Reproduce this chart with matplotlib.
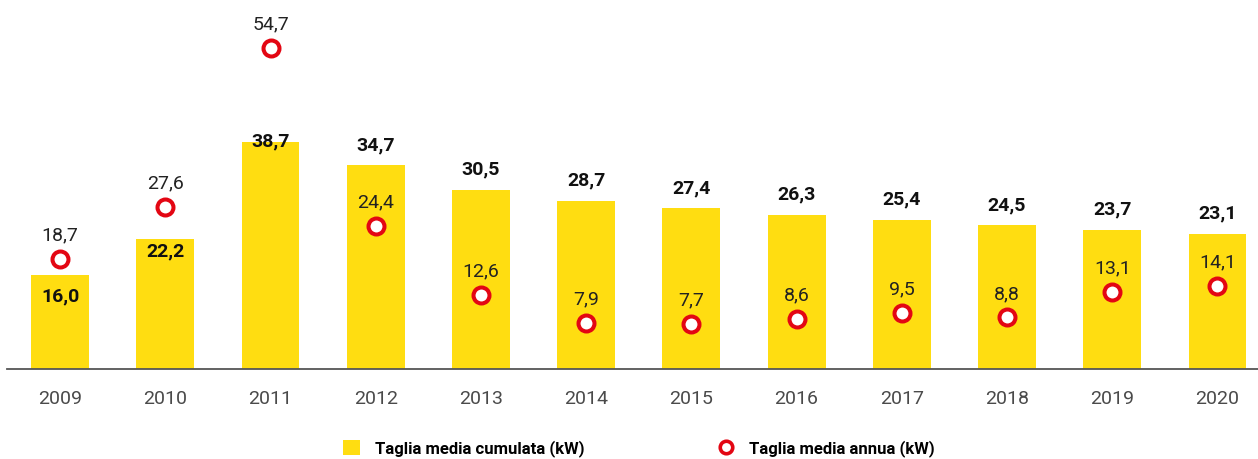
import matplotlib
matplotlib.use("Agg")
import matplotlib.pyplot as plt
from matplotlib.lines import Line2D
from matplotlib.patches import Patch

years = ["2009", "2010", "2011", "2012", "2013", "2014", "2015", "2016", "2017", "2018", "2019", "2020"]
cumulata = [16.0, 22.2, 38.7, 34.7, 30.5, 28.7, 27.4, 26.3, 25.4, 24.5, 23.7, 23.1]
annua = [18.7, 27.6, 54.7, 24.4, 12.6, 7.9, 7.7, 8.6, 9.5, 8.8, 13.1, 14.1]
label_cumulata = "Taglia media cumulata (kW)"
label_annua = "Taglia media annua (kW)"

# label offsets (points) for the bar values (style only)
bar_label_offsets = [-19, -13, -3, 11, 11, 11, 11, 11, 11, 11, 11, 11]

plt.rcParams['font.family'] = ['Roboto', 'DejaVu Sans']

YELLOW = "#FFDD11"
RED = "#E30613"

fig = plt.figure(figsize=(12.58, 4.59), dpi=100)
ax = fig.add_axes([0.0056, 0.196, 0.9944, 0.804])

x = list(range(len(years)))
ax.bar(x, cumulata, width=0.55, color=YELLOW, zorder=2)
ax.plot(x, annua, linestyle='none', marker='o', markersize=11.5,
        markerfacecolor='white', markeredgecolor=RED, markeredgewidth=2.9, zorder=3)

for xi, v, off in zip(x, cumulata, bar_label_offsets):
    ax.annotate(f"{v:.1f}".replace('.', ','), (xi, v), xytext=(0, off),
                textcoords='offset points', ha='center', va='baseline',
                fontsize=14, fontweight='bold', color='#111111', zorder=4)

for xi, v in zip(x, annua):
    ax.annotate(f"{v:.1f}".replace('.', ','), (xi, v), xytext=(0, 13.3),
                textcoords='offset points', ha='center', va='baseline',
                fontsize=14, color='#222222', zorder=4)

ax.set_xlim(-0.504, 11.385)
ax.set_ylim(0, 62.9)
ax.set_xticks(x)
ax.set_xticklabels(years, fontsize=14, color='#4a4a4a', fontweight='normal')
ax.tick_params(axis='x', length=0, pad=15)
ax.set_yticks([])
for s in ['top', 'right', 'left']:
    ax.spines[s].set_visible(False)
ax.spines['bottom'].set_color('#555555')
ax.spines['bottom'].set_linewidth(1.3)

handles = [
    Patch(facecolor=YELLOW, edgecolor='none', label=label_cumulata),
    Line2D([], [], linestyle='none', marker='o', markersize=9, markerfacecolor='white',
           markeredgecolor=RED, markeredgewidth=2.6, label=label_annua),
]
fig.legend(handles=handles, loc='center', bbox_to_anchor=(0.508, 0.022), ncol=2,
           frameon=False, columnspacing=8.0, handlelength=1.0, handleheight=1.0,
           handletextpad=0.9, prop={'size': 12, 'weight': 'semibold'})

fig.savefig("out.png", dpi=100)
